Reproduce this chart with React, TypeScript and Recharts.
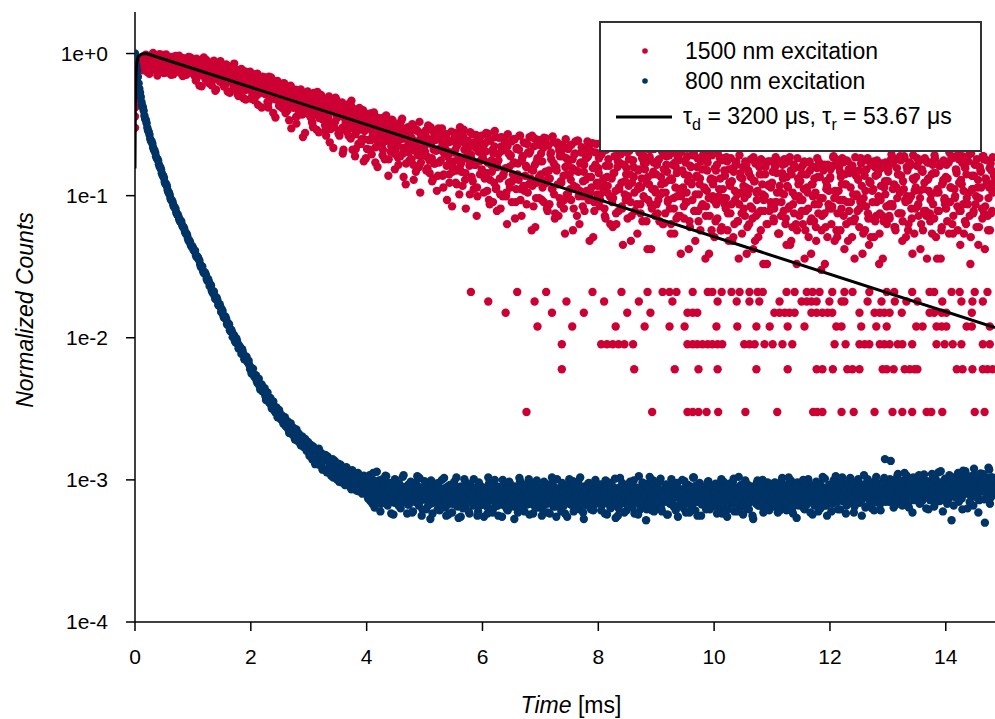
import React from "react";
import { ScatterChart, Scatter, XAxis, YAxis, Legend } from "recharts";

const FONT = "'Liberation Sans', Arial, sans-serif";
const RED = "#CC0033";
const BLUE = "#003366";

// each trace was read out in interleaved sweeps of 0.025 ms bins;
// a sweep starts at its own offset (ms) and holds one count per bin
const BIN_MS = 0.025;
const SWEEP_A_START = 0;
const SWEEP_B_START = 0.0125;
const SWEEP_C_START = 0.00625;
const BLUE_SWEEP_C_START = 4.00625;
// raw counts that correspond to a normalized value of 1
const RED_FULL_SCALE = 333;
const BLUE_FULL_SCALE = 100000;

// 1500 nm excitation, sweep A (one row = 1 ms)
const redSweepA = [
  120, 195, 255, 285, 300, 276, 318, 262, 305, 288, 240, 322, 296, 270, 310, 251, 289, 330, 265, 298, 243, 281, 312, 258, 292, 236, 304, 274, 320, 249, 286, 262, 301, 231, 278, 295, 254, 315, 268, 244,
  248, 292, 215, 301, 232, 270, 196, 283, 241, 262, 220, 287, 238, 199, 274, 251, 186, 266, 229, 294, 207, 258, 233, 279, 180, 247, 221, 268, 194, 240, 226, 172, 255, 203, 238, 161, 249, 214, 186, 231,
  205, 168, 238, 190, 222, 145, 213, 181, 229, 196, 174, 215, 139, 201, 226, 162, 189, 118, 208, 183, 196, 151, 178, 206, 127, 169, 190, 144, 99, 175, 158, 185, 121, 166, 140, 178, 86, 152, 131, 170,
  148, 120, 172, 101, 157, 136, 179, 93, 142, 163, 128, 154, 88, 139, 166, 110, 146, 72, 131, 158, 119, 143, 96, 151, 70, 125, 137, 104, 148, 84, 112, 131, 63, 120, 96, 138, 77, 107, 58, 124,
  98, 121, 70, 110, 86, 128, 57, 102, 79, 115, 93, 64, 118, 81, 105, 46, 97, 74, 112, 88, 70, 103, 55, 91, 112, 66, 84, 40, 99, 77, 88, 60, 104, 72, 49, 95, 81, 35, 67, 92,
  74, 96, 52, 83, 101, 61, 44, 88, 69, 93, 57, 85, 99, 38, 72, 90, 63, 47, 80, 28, 67, 92, 50, 78, 34, 86, 59, 97, 43, 71, 81, 54, 65, 90, 37, 73, 24, 84, 58, 68,
  62, 35, 78, 48, 91, 29, 55, 70, 41, 86, 26, 59, 44, 74, 33, 83, 52, 21, 66, 38, 80, 47, 57, 30, 72, 43, 88, 24, 63, 36, 54, 77, 40, 68, 19, 50, 84, 32, 61, 45,
  58, 31, 72, 42, 84, 26, 50, 65, 37, 79, 23, 53, 40, 69, 29, 76, 46, 18, 61, 34, 74, 43, 52, 27, 66, 38, 81, 21, 57, 33, 49, 71, 36, 63, 16, 45, 78, 30, 55, 41,
  52, 28, 66, 38, 77, 23, 45, 60, 33, 72, 20, 48, 36, 63, 26, 69, 41, 15, 55, 31, 67, 39, 47, 24, 59, 35, 74, 18, 51, 29, 44, 64, 32, 57, 14, 40, 70, 27, 49, 37,
  47, 25, 60, 34, 68, 21, 41, 55, 30, 64, 18, 43, 32, 57, 23, 62, 37, 13, 50, 28, 59, 35, 42, 22, 53, 31, 66, 16, 46, 26, 40, 58, 29, 51, 12, 36, 63, 24, 44, 33,
  43, 22, 55, 31, 61, 19, 37, 50, 27, 58, 16, 39, 29, 52, 21, 56, 34, 12, 45, 25, 53, 32, 38, 20, 48, 28, 60, 14, 42, 24, 36, 54, 26, 47, 11, 33, 57, 21, 40, 30,
  41, 23, 53, 30, 59, 18, 35, 48, 26, 56, 15, 38, 28, 50, 20, 55, 33, 11, 44, 24, 52, 31, 37, 19, 47, 27, 58, 13, 40, 22, 35, 52, 25, 45, 10, 32, 55, 20, 39, 29,
  44, 21, 54, 32, 60, 17, 36, 49, 27, 57, 14, 40, 30, 51, 22, 54, 34, 12, 46, 26, 50, 30, 39, 18, 46, 28, 61, 15, 41, 23, 37, 53, 24, 47, 11, 31, 56, 22, 42, 28,
  42, 24, 56, 29, 58, 20, 38, 47, 25, 59, 16, 37, 31, 53, 19, 57, 33, 13, 43, 27, 54, 29, 36, 21, 49, 26, 59, 12, 44, 25, 34, 55, 23, 48, 12, 35, 54, 19, 41, 31,
  45, 22, 57, 30, 62, 18, 37, 51, 28, 60, 15, 40, 29, 53, 21, 58, 35, 11, 46, 25, 55, 33, 38, 20, 50, 27, 63, 14, 43, 24, 38, 56, 26, 41,
];

// 1500 nm excitation, sweep B (one row = 1 ms)
const redSweepB = [
  160, 230, 270, 295, 312, 268, 291, 327, 247, 303, 281, 259, 336, 274, 297, 233, 318, 286, 252, 309, 271, 328, 245, 293, 264, 315, 238, 299, 279, 256, 321, 243, 288, 309, 262, 236, 296, 273, 311, 250,
  271, 229, 306, 254, 198, 287, 243, 312, 221, 265, 289, 205, 258, 231, 296, 182, 249, 277, 212, 240, 263, 195, 226, 272, 241, 176, 254, 213, 283, 188, 237, 167, 215, 259, 196, 243, 158, 222, 206, 248,
  182, 231, 156, 211, 240, 175, 198, 139, 224, 187, 206, 152, 229, 170, 193, 127, 211, 164, 186, 143, 162, 204, 136, 188, 149, 172, 113, 198, 158, 138, 181, 107, 164, 143, 186, 124, 157, 92, 174, 134,
  165, 131, 108, 176, 146, 97, 154, 123, 170, 115, 143, 96, 160, 121, 79, 152, 134, 101, 163, 117, 91, 138, 127, 66, 144, 109, 132, 88, 118, 155, 99, 135, 71, 126, 104, 116, 83, 133, 95, 61,
  113, 82, 126, 65, 104, 91, 119, 53, 97, 86, 75, 109, 60, 122, 88, 99, 68, 114, 81, 51, 94, 62, 107, 83, 116, 45, 92, 73, 101, 59, 86, 106, 43, 78, 97, 64, 110, 57, 84, 73,
  89, 63, 104, 48, 77, 95, 56, 82, 36, 99, 70, 91, 46, 66, 87, 31, 79, 58, 94, 53, 84, 41, 75, 62, 101, 49, 88, 70, 27, 81, 60, 93, 45, 76, 55, 89, 33, 68, 79, 51,
  73, 44, 92, 57, 31, 81, 49, 66, 95, 38, 58, 85, 27, 69, 47, 77, 35, 90, 53, 64, 42, 83, 23, 71, 56, 88, 37, 62, 79, 46, 29, 67, 86, 51, 39, 74, 20, 58, 82, 43,
  66, 38, 85, 49, 27, 75, 44, 60, 87, 34, 53, 79, 24, 63, 41, 71, 31, 83, 47, 58, 37, 76, 19, 65, 50, 81, 33, 56, 73, 42, 26, 61, 80, 45, 35, 68, 17, 52, 77, 39,
  61, 34, 79, 44, 24, 70, 39, 54, 80, 30, 48, 73, 21, 58, 37, 65, 27, 76, 42, 52, 33, 69, 16, 59, 45, 74, 29, 50, 67, 38, 22, 56, 73, 41, 31, 62, 14, 47, 71, 35,
  55, 31, 72, 40, 21, 64, 35, 49, 70, 27, 44, 67, 18, 53, 33, 59, 24, 68, 38, 47, 30, 63, 14, 54, 40, 66, 26, 45, 61, 34, 19, 51, 65, 37, 28, 57, 13, 43, 64, 31,
  52, 29, 66, 37, 19, 59, 32, 46, 62, 25, 41, 61, 16, 49, 31, 55, 22, 64, 35, 44, 27, 58, 13, 50, 37, 60, 23, 42, 56, 31, 17, 47, 60, 34, 26, 53, 11, 39, 58, 28,
  49, 27, 62, 35, 18, 57, 30, 44, 60, 23, 39, 58, 15, 47, 29, 52, 21, 61, 33, 42, 26, 55, 12, 47, 35, 57, 22, 40, 53, 29, 16, 45, 57, 32, 24, 50, 11, 37, 55, 27,
  51, 28, 63, 36, 19, 58, 31, 45, 61, 24, 40, 59, 16, 48, 30, 54, 22, 62, 34, 43, 27, 56, 13, 49, 36, 59, 23, 41, 55, 30, 17, 46, 59, 33, 25, 52, 12, 38, 57, 28,
  53, 29, 65, 37, 20, 60, 32, 47, 63, 25, 42, 61, 17, 50, 31, 56, 23, 64, 36, 45, 28, 58, 14, 51, 37, 61, 24, 43, 57, 31, 18, 48, 61, 35, 26, 54, 12, 40, 59, 29,
  55, 30, 67, 38, 21, 62, 33, 48, 65, 26, 43, 63, 18, 52, 32, 58, 24, 66, 37, 46, 29, 60, 15, 53, 38, 63, 25, 44, 59, 32, 19, 50, 62, 36,
];

// 1500 nm excitation, sweep C (one row = 1 ms)
const redSweepC = [
  140, 215, 262, 290, 302, 254, 295, 321, 269, 284, 310, 258, 299, 272, 317, 291, 265, 306, 280, 325, 250, 293, 264, 303, 249, 289, 275, 296, 256, 307, 267, 285, 246, 300, 260, 278, 293, 253, 311, 271,
  285, 233, 274, 248, 293, 266, 240, 281, 255, 300, 210, 254, 235, 276, 219, 261, 246, 269, 227, 280, 222, 240, 200, 257, 216, 235, 250, 208, 266, 227, 214, 189, 239, 203, 228, 182, 221, 246, 196, 210,
  160, 202, 184, 223, 169, 209, 195, 216, 176, 227, 172, 189, 151, 203, 165, 182, 196, 158, 214, 175, 163, 139, 188, 153, 177, 132, 170, 195, 146, 160, 166, 119, 156, 132, 173, 149, 126, 163, 139, 180,
  130, 146, 110, 159, 123, 139, 152, 117, 169, 133, 125, 104, 146, 116, 137, 98, 131, 152, 110, 122, 130, 88, 121, 100, 136, 115, 94, 127, 106, 142, 70, 105, 90, 123, 77, 111, 99, 117, 83, 126,
  71, 100, 119, 82, 92, 111, 73, 103, 84, 117, 89, 70, 99, 81, 112, 60, 90, 77, 106, 66, 87, 77, 93, 63, 100, 72, 85, 56, 95, 67, 73, 84, 55, 97, 68, 72, 53, 90, 64, 82,
  68, 50, 80, 59, 100, 42, 70, 56, 90, 46, 71, 59, 78, 47, 89, 54, 68, 41, 81, 49, 58, 70, 40, 90, 52, 56, 39, 79, 48, 68, 72, 34, 61, 42, 79, 55, 38, 68, 47, 88,
  61, 48, 68, 36, 83, 43, 59, 30, 74, 37, 53, 66, 34, 86, 46, 50, 33, 74, 41, 63, 30, 56, 83, 37, 47, 70, 31, 59, 39, 78, 53, 35, 66, 44, 88, 28, 55, 41, 76, 32,
  47, 58, 30, 78, 41, 44, 29, 67, 37, 56, 25, 50, 75, 32, 42, 63, 27, 53, 34, 71, 47, 31, 60, 39, 80, 24, 49, 36, 67, 28, 55, 43, 62, 31, 76, 38, 52, 26, 67, 34,
  48, 31, 65, 42, 27, 54, 35, 74, 21, 44, 32, 63, 25, 53, 38, 56, 28, 69, 34, 47, 23, 60, 30, 41, 53, 26, 72, 37, 39, 25, 61, 33, 51, 22, 45, 70, 29, 37, 57, 24,
  29, 59, 22, 45, 35, 51, 25, 63, 31, 43, 21, 55, 27, 38, 48, 24, 66, 33, 36, 23, 57, 30, 46, 20, 41, 64, 26, 34, 53, 22, 44, 28, 60, 38, 24, 50, 32, 68, 19, 40,
  17, 50, 23, 33, 44, 20, 61, 29, 32, 19, 51, 25, 42, 17, 36, 58, 22, 29, 48, 18, 39, 24, 55, 34, 21, 45, 27, 62, 16, 35, 25, 53, 19, 40, 31, 47, 21, 58, 26, 38,
  58, 22, 30, 48, 18, 39, 24, 55, 34, 21, 45, 27, 62, 16, 35, 25, 53, 19, 40, 31, 47, 21, 58, 26, 38, 17, 50, 23, 33, 44, 20, 61, 29, 32, 19, 51, 25, 42, 17, 36,
  45, 27, 62, 16, 35, 25, 53, 19, 40, 31, 47, 21, 58, 26, 38, 17, 50, 23, 33, 44, 20, 61, 29, 32, 19, 51, 25, 42, 17, 36, 58, 22, 30, 48, 18, 39, 24, 55, 34, 21,
  49, 23, 60, 28, 40, 19, 52, 25, 35, 46, 22, 63, 30, 33, 21, 54, 27, 44, 18, 38, 61, 24, 32, 50, 19, 41, 26, 57, 36, 22, 47, 29, 64, 17, 37, 26, 56, 20, 43, 32,
  27, 44, 18, 38, 61, 24, 32, 50, 19, 41, 26, 57, 36, 22, 47, 29, 65, 17, 37, 26, 56, 20, 43, 32, 49, 23, 60, 28, 40, 19, 52, 25, 35, 46,
];

// isolated low-count points of the 1500 nm trace: [counts, times in ms]
const redLowRows: [number, number[]][] = [
  [1, [6.76, 8.93, 9.54, 9.63, 9.73, 9.87, 10.07, 10.54, 11.09, 11.71, 11.78, 11.87, 12.2, 12.41, 12.77, 13.08, 13.25, 13.42, 13.67, 13.75, 13.94, 14.5, 14.67]],
  [2, [7.37, 8.62, 9.32, 9.73, 10.06, 10.73, 11.27, 11.77, 11.87, 12.05, 12.3, 12.39, 12.51, 12.91, 12.98, 13.1, 13.29, 13.38, 13.46, 13.51, 14.19, 14.29, 14.46, 14.64, 14.72, 14.81]],
  [3, [7.37, 8.05, 8.15, 8.25, 8.35, 8.45, 8.6, 9.54, 9.63, 9.71, 9.8, 9.89, 9.97, 10.06, 10.14, 10.52, 10.61, 10.7, 10.87, 11.01, 11.18, 11.35, 12.08, 12.27, 12.51, 12.6, 12.68, 12.86, 12.94, 13.03, 13.17, 13.25, 13.42, 13.84, 13.98, 14.12, 14.27, 14.64, 14.76]],
  [4, [6.95, 7.55, 8.3, 8.8, 9.23, 9.49, 10.04, 10.4, 10.73, 10.96, 11.27, 11.56, 12.11, 12.2, 12.54, 12.8, 12.98, 13.49, 13.6, 13.84, 13.93, 14.01, 14.36, 14.45, 14.76]],
  [5, [6.4, 7.2, 7.75, 8.5, 8.9, 9.54, 9.63, 9.71, 11.04, 11.13, 11.22, 11.3, 11.39, 11.68, 11.77, 11.87, 11.96, 12.04, 12.51, 12.77, 12.86, 12.94, 13.03, 13.24, 13.72, 13.8, 13.93, 14.01, 14.45]],
  [6, [6.1, 6.9, 7.45, 8.1, 8.7, 9.28, 10.06, 10.39, 10.61, 10.78, 11.13, 11.51, 11.6, 11.68, 11.77, 11.99, 12.2, 12.25, 12.65, 12.89, 13.12, 13.32, 13.51, 13.94, 14.27, 14.46, 14.64]],
  [7, [5.8, 6.6, 7.1, 7.9, 8.4, 8.85, 9.11, 9.23, 9.35, 9.63, 9.89, 9.97, 10.13, 10.3, 10.44, 10.61, 10.75, 10.84, 11.25, 11.39, 11.6, 11.7, 11.82, 12.04, 12.25, 12.39, 12.68, 12.98, 13.11, 13.42, 13.72, 13.8, 14.1, 14.24, 14.5, 14.72]],
];

// rising edge of the 1500 nm trace: [ms, normalized]
const redRise: [number, number][] = [
  [0.0, 0.3], [0.003, 0.42], [0.006, 0.57], [0.012, 0.67], [0.03, 0.75],
];

// 800 nm excitation, sweep A (one row = 1 ms)
const blueSweepA = [
  100000, 81500, 68500, 56500, 49500, 43000, 39500, 34600, 32300, 28700, 26800, 24200, 23200, 21000, 20000, 18300, 17600, 16000, 15300, 13900, 13300, 12100, 11650, 10550, 10100, 9300, 9000, 8300, 8050, 7400, 7150, 6600, 6550, 6050, 5850, 5420, 5260, 4820, 4700, 4380,
  4300, 4120, 3820, 3730, 3550, 3280, 3200, 2950, 2890, 2760, 2520, 2490, 2370, 2150, 2130, 1960, 1930, 1820, 1680, 1650, 1580, 1430, 1420, 1350, 1230, 1240, 1110, 1100, 1050, 950, 990, 905, 880, 830, 830, 760, 730, 735, 670, 640,
  615, 570, 548, 540, 498, 500, 458, 462, 420, 435, 390, 400, 362, 378, 335, 352, 316, 298, 318, 280, 295, 268, 258, 272, 240, 255, 225, 241, 212, 232, 200, 222, 190, 212, 182, 198, 177, 191, 168, 180,
  180, 150, 161, 172, 138, 158, 131, 166, 142, 124, 150, 118, 137, 146, 112, 133, 121, 104, 136, 111, 124, 97, 128, 106, 116, 92, 123, 101, 110, 88, 117, 95, 106, 84, 112, 91, 100, 80, 107, 87,
  96, 74, 108, 84, 68, 99, 87, 114, 77, 90, 68, 101, 77, 107, 68, 92, 80, 58, 96, 74, 100, 81, 66, 91, 69, 105, 75, 83, 58, 93, 70, 85, 60, 95, 74, 106, 66, 80, 56, 88,
  98, 62, 84, 74, 53, 89, 69, 94, 76, 62, 86, 66, 100, 72, 80, 56, 90, 68, 83, 59, 93, 73, 104, 65, 78, 55, 87, 82, 64, 95, 73, 58, 87, 76, 101, 67, 80, 60, 91, 70,
  87, 55, 78, 65, 104, 73, 93, 59, 83, 68, 90, 56, 80, 72, 100, 66, 86, 62, 76, 94, 69, 89, 53, 74, 84, 62, 98, 70, 91, 60, 80, 67, 101, 76, 87, 58, 73, 95, 64, 82,
  80, 56, 90, 68, 83, 59, 93, 73, 104, 65, 78, 55, 87, 82, 64, 95, 73, 58, 87, 76, 101, 67, 80, 60, 91, 70, 98, 62, 84, 74, 53, 89, 69, 94, 76, 62, 86, 66, 100, 72,
  75, 92, 61, 85, 70, 99, 57, 81, 66, 95, 72, 88, 54, 79, 63, 103, 69, 84, 59, 91, 77, 65, 97, 71, 86, 58, 82, 74, 106, 62, 89, 68, 78, 52, 94, 73, 83, 61, 99, 67,
  88, 64, 79, 102, 60, 85, 72, 93, 57, 81, 69, 97, 65, 76, 90, 55, 84, 71, 100, 63, 80, 74, 92, 59, 87, 67, 104, 61, 78, 70, 95, 56, 83, 73, 89, 66, 98, 62, 77, 86,
  71, 94, 58, 83, 67, 101, 63, 79, 88, 55, 76, 91, 69, 97, 60, 82, 73, 105, 64, 86, 57, 80, 70, 93, 62, 89, 75, 53, 84, 68, 99, 66, 78, 90, 59, 85, 72, 96, 61, 81,
  83, 65, 96, 74, 59, 89, 77, 103, 68, 81, 61, 93, 71, 99, 63, 85, 75, 54, 90, 70, 95, 77, 63, 87, 67, 101, 73, 81, 57, 91, 69, 84, 60, 94, 74, 105, 66, 79, 56, 88,
  90, 60, 82, 70, 106, 76, 95, 62, 86, 71, 93, 58, 83, 75, 103, 69, 89, 65, 79, 97, 72, 92, 56, 77, 87, 65, 101, 73, 94, 63, 84, 70, 105, 79, 90, 61, 76, 98, 140, 85,
  92, 70, 136, 79, 64, 96, 83, 110, 73, 87, 66, 99, 77, 107, 68, 91, 81, 59, 97, 75, 103, 83, 68, 94, 72, 109, 79, 88, 62, 98, 75, 91, 65, 101, 80, 113, 71, 86, 60, 95,
  96, 68, 91, 79, 52, 100, 76, 105, 84, 70, 97, 74, 116, 81, 89, 63, 102, 78, 93, 66, 108, 86, 98, 72, 111, 83, 92, 50, 104, 80, 118, 75, 95, 88,
];

// 800 nm excitation, sweep B (one row = 1 ms)
const blueSweepB = [
  89000, 76000, 61500, 53000, 45500, 41500, 36500, 34000, 30000, 28100, 25100, 24100, 21800, 20800, 18900, 18100, 16600, 15800, 14400, 13800, 12500, 12050, 10950, 10500, 9550, 9250, 8550, 8250, 7600, 7380, 6820, 6680, 6230, 6020, 5580, 5410, 4990, 4840, 4500, 4400,
  4120, 4090, 3700, 3680, 3490, 3150, 3160, 2860, 2850, 2590, 2590, 2310, 2330, 2080, 2110, 1870, 1900, 1700, 1720, 1520, 1545, 1380, 1400, 1250, 1260, 1130, 1140, 1010, 1040, 925, 945, 840, 860, 770, 790, 705, 725, 680, 690, 600,
  560, 605, 530, 545, 480, 515, 432, 470, 418, 442, 365, 412, 352, 376, 318, 356, 305, 325, 276, 310, 268, 284, 248, 276, 236, 258, 214, 250, 210, 232, 192, 226, 188, 205, 175, 202, 170, 194, 160, 185,
  148, 176, 139, 168, 129, 160, 145, 127, 155, 118, 142, 150, 113, 139, 128, 107, 140, 114, 124, 101, 130, 109, 96, 122, 115, 92, 119, 99, 111, 86, 114, 97, 90, 109, 83, 104, 94, 81, 102, 89,
  82, 103, 71, 94, 112, 64, 88, 79, 99, 60, 91, 84, 73, 106, 66, 95, 77, 89, 57, 101, 70, 86, 94, 63, 80, 108, 74, 90, 67, 83, 97, 59, 87, 76, 92, 69, 103, 81, 62, 85,
  73, 91, 66, 84, 99, 58, 79, 88, 70, 95, 61, 82, 75, 103, 64, 86, 57, 92, 77, 68, 97, 72, 84, 54, 89, 79, 63, 101, 71, 85, 60, 93, 76, 66, 88, 82, 56, 96, 74, 80,
  69, 87, 79, 58, 94, 72, 83, 63, 100, 76, 66, 89, 81, 55, 92, 70, 85, 61, 97, 74, 78, 65, 90, 84, 59, 103, 71, 80, 67, 93, 75, 86, 57, 95, 68, 82, 64, 99, 77, 72,
  84, 62, 97, 75, 68, 89, 58, 81, 93, 71, 65, 101, 78, 86, 60, 94, 73, 83, 55, 91, 76, 67, 98, 70, 87, 63, 80, 104, 72, 59, 90, 79, 66, 95, 74, 85, 61, 92, 69, 82,
  77, 93, 66, 85, 58, 98, 74, 81, 63, 90, 71, 102, 79, 56, 88, 68, 95, 75, 84, 61, 92, 70, 80, 64, 99, 73, 87, 57, 83, 76, 96, 67, 89, 62, 78, 105, 72, 86, 60, 91,
  70, 86, 97, 63, 82, 75, 92, 57, 80, 68, 101, 74, 88, 61, 95, 79, 66, 85, 72, 98, 59, 83, 77, 90, 64, 104, 71, 84, 56, 93, 76, 67, 89, 81, 62, 96, 73, 87, 65, 80,
  79, 65, 91, 73, 86, 58, 97, 70, 83, 62, 94, 77, 68, 102, 74, 88, 60, 81, 92, 67, 76, 99, 63, 85, 72, 90, 56, 82, 78, 95, 66, 87, 71, 100, 61, 84, 75, 93, 69, 80,
  74, 95, 67, 86, 80, 61, 98, 72, 89, 64, 83, 104, 70, 91, 58, 85, 77, 96, 66, 82, 73, 100, 62, 88, 76, 93, 59, 84, 79, 68, 97, 71, 90, 63, 87, 75, 102, 66, 81, 92,
  85, 68, 99, 77, 91, 62, 88, 80, 104, 71, 94, 66, 83, 97, 74, 87, 59, 92, 79, 101, 69, 86, 76, 108, 64, 90, 82, 96, 72, 85, 61, 99, 78, 93, 67, 89, 84, 103, 70, 94,
  80, 101, 74, 93, 86, 67, 106, 78, 97, 71, 90, 112, 76, 99, 64, 94, 83, 104, 72, 89, 81, 108, 69, 96, 85, 100, 63, 92, 87, 75, 110, 79, 98, 70, 95, 84, 115, 73, 91, 102,
  90, 72, 108, 84, 99, 66, 95, 86, 112, 78, 103, 62, 92, 115, 80, 97, 70, 106, 88, 120, 76, 101, 59, 94, 85, 110, 73, 98, 82, 122, 68, 104, 91, 79,
];

// 800 nm excitation, sweep C, recorded from 4 ms on (one row = 1 ms)
const blueSweepC = [
  85, 75, 94, 79, 89, 71, 96, 81, 90, 75, 84, 71, 92, 78, 87, 73, 94, 75, 81, 69, 89, 79, 71, 91, 76, 84, 73, 88, 78, 67, 85, 76, 92, 70, 81, 75, 89, 71, 83, 77,
  76, 85, 71, 80, 68, 88, 75, 84, 70, 91, 73, 79, 67, 87, 77, 69, 89, 74, 82, 72, 86, 76, 66, 83, 75, 90, 69, 80, 73, 87, 70, 81, 76, 78, 69, 87, 73, 83, 66, 90,
  67, 87, 77, 69, 89, 74, 82, 72, 86, 76, 66, 83, 75, 90, 69, 80, 73, 87, 70, 81, 76, 78, 69, 87, 73, 83, 66, 90, 76, 85, 71, 80, 68, 88, 75, 84, 70, 91, 73, 79,
  66, 83, 75, 90, 69, 80, 73, 87, 70, 81, 76, 78, 69, 87, 73, 83, 66, 90, 76, 85, 71, 80, 68, 88, 75, 84, 70, 91, 73, 79, 67, 87, 77, 69, 89, 74, 82, 72, 86, 76,
  76, 81, 70, 87, 73, 80, 69, 90, 75, 83, 66, 76, 86, 72, 82, 74, 89, 69, 77, 87, 67, 79, 73, 91, 70, 84, 75, 88, 68, 80, 71, 85, 76, 90, 66, 83, 73, 87, 69, 78,
  73, 87, 69, 78, 76, 81, 70, 87, 73, 80, 69, 90, 75, 83, 66, 76, 86, 72, 82, 74, 89, 69, 77, 87, 67, 79, 73, 91, 70, 84, 75, 88, 68, 80, 71, 85, 76, 90, 66, 83,
  82, 74, 89, 69, 77, 87, 67, 79, 73, 91, 70, 84, 75, 88, 68, 80, 71, 85, 76, 90, 66, 83, 73, 87, 69, 78, 76, 81, 70, 87, 73, 80, 69, 90, 75, 83, 66, 76, 86, 72,
  80, 70, 88, 74, 84, 67, 91, 77, 86, 72, 81, 69, 89, 76, 85, 71, 92, 74, 80, 68, 88, 78, 70, 90, 75, 83, 73, 87, 77, 66, 84, 76, 92, 70, 81, 74, 88, 71, 82, 77,
  84, 72, 93, 77, 87, 70, 94, 80, 89, 75, 84, 71, 93, 79, 88, 74, 96, 76, 83, 71, 91, 81, 73, 93, 78, 86, 75, 90, 80, 69, 88, 79, 95, 72, 84, 77, 92, 74, 85, 80,
  86, 76, 97, 81, 91, 73, 99, 83, 94, 78, 89, 75, 97, 83, 93, 77, 101, 80, 87, 74, 95, 85, 77, 98, 82, 90, 79, 95, 84, 72, 92, 83, 100, 76, 88, 81, 96, 77, 89, 83,
  90, 79, 101, 85, 95, 77, 104, 87, 98, 82, 93, 78, 102, 86, 97, 81, 105, 84, 91, 77, 100, 89, 80, 103, 86, 95, 83, 99, 88, 76, 96, 86, 104, 79,
];

// fitted curve (tau_d = 3200 us, tau_r = 53.67 us): [ms, normalized]
const fitCurve: [number, number][] = [
  [0, 0.155], [0.006, 0.45], [0.012, 0.63], [0.02, 0.76], [0.035, 0.89], [0.06, 0.955], [0.12, 0.993], [0.2, 1.0], [0.25, 0.985], [14.85, 0.0118],
];

const xTicks = [0, 2, 4, 6, 8, 10, 12, 14];
const yTicks = [1e-4, 1e-3, 1e-2, 1e-1, 1];
const yTickLabels = ["1e-4", "1e-3", "1e-2", "1e-1", "1e+0"];

const sweep = (counts: number[], start: number, scale: number) =>
  counts.map((c, i) => ({ t: start + i * BIN_MS, v: c / scale }));

const redData = [
  ...sweep(redSweepA, SWEEP_A_START, RED_FULL_SCALE),
  ...sweep(redSweepB, SWEEP_B_START, RED_FULL_SCALE),
  ...sweep(redSweepC, SWEEP_C_START, RED_FULL_SCALE),
  ...redRise.map(([t, v]) => ({ t, v })),
  ...redLowRows.flatMap(([c, times]) => times.map((t) => ({ t, v: c / RED_FULL_SCALE }))),
];
const blueData = [
  ...sweep(blueSweepA, SWEEP_A_START, BLUE_FULL_SCALE),
  ...sweep(blueSweepB, SWEEP_B_START, BLUE_FULL_SCALE),
  ...sweep(blueSweepC, BLUE_SWEEP_C_START, BLUE_FULL_SCALE),
];
const fitData = fitCurve.map(([t, v]) => ({ t, v }));

const dot = (color: string) => (props: any) =>
  <circle cx={props.cx} cy={props.cy} r={4.2} fill={color} />;

const noShape = () => <g />;

const LegendBox = () => (
  <svg width={383} height={131} style={{ display: "block" }}>
    <rect x={1} y={1} width={381} height={129} fill="#fff" stroke="#333" strokeWidth={2} />
    <circle cx={46} cy={30} r={2.8} fill={RED} />
    <circle cx={46} cy={60} r={2.8} fill={BLUE} />
    <line x1={17} y1={96} x2={73} y2={96} stroke="#000" strokeWidth={3} />
    <g fontFamily={FONT} fontSize={23} fill="#000">
      <text x={86} y={38}>1500 nm excitation</text>
      <text x={86} y={68}>800 nm excitation</text>
      <text x={84} y={103}>
        τ<tspan fontSize={16} dy={6}>d</tspan>
        <tspan dy={-6}> = 3200 μs, τ</tspan>
        <tspan fontSize={16} dy={6}>r</tspan>
        <tspan dy={-6}> = 53.67 μs</tspan>
      </text>
    </g>
  </svg>
);

const XTitle = (props: any) => {
  const { x, y, width } = props.viewBox;
  return (
    <text x={x + width / 2 + 6} y={y + 91} textAnchor="middle" fontFamily={FONT} fontSize={23} fill="#000">
      <tspan fontStyle="italic">Time</tspan>
      <tspan> [ms]</tspan>
    </text>
  );
};

const YTitle = (props: any) => {
  const { y, height } = props.viewBox;
  const cy = y + height / 2 - 7;
  return (
    <text x={33} y={cy} transform={`rotate(-90, 33, ${cy})`} textAnchor="middle" fontFamily={FONT} fontSize={23} fontStyle="italic" fill="#000">
      Normalized Counts
    </text>
  );
};

const axisStroke = { stroke: "#000", strokeWidth: 1.5 };
const tickStyle = { fill: "#000", fontSize: 21, fontFamily: FONT };

export default function App() {
  return (
    <div style={{ position: "absolute", left: 0, top: 0, background: "#fff" }}>
      <ScatterChart width={995} height={719} margin={{ top: 12, right: 0, bottom: 0, left: 0 }}>
        <XAxis
          type="number"
          dataKey="t"
          domain={[0, 14.85]}
          allowDataOverflow
          ticks={xTicks}
          interval={0}
          height={97}
          tickSize={9}
          tickMargin={18}
          tick={tickStyle}
          axisLine={axisStroke}
          tickLine={axisStroke}
          label={{ content: XTitle }}
        />
        <XAxis
          xAxisId="top"
          orientation="top"
          type="number"
          dataKey="t"
          domain={[0, 14.85]}
          allowDataOverflow
          height={0}
          tick={false}
          tickLine={false}
          axisLine={axisStroke}
        />
        <YAxis
          type="number"
          dataKey="v"
          scale="log"
          domain={[1e-4, 1.96]}
          allowDataOverflow
          ticks={yTicks}
          interval={0}
          width={135}
          tickSize={9}
          tickMargin={18}
          tick={tickStyle}
          axisLine={axisStroke}
          tickLine={axisStroke}
          tickFormatter={(v: number) => yTickLabels[yTicks.findIndex((k) => Math.abs(k - v) < k * 1e-6)] ?? String(v)}
          label={{ content: YTitle }}
        />
        <Legend
          layout="vertical"
          align="center"
          verticalAlign="middle"
          content={() => <LegendBox />}
          wrapperStyle={{ left: 599, top: 21, width: 383, height: 131 }}
        />
        <Scatter name="1500 nm excitation" data={redData} fill={RED} shape={dot(RED)} isAnimationActive={false} />
        <Scatter name="800 nm excitation" data={blueData} fill={BLUE} shape={dot(BLUE)} isAnimationActive={false} />
        <Scatter
          name="fit"
          data={fitData}
          fill="#000"
          shape={noShape}
          line={{ stroke: "#000", strokeWidth: 3 }}
          isAnimationActive={false}
        />
      </ScatterChart>
    </div>
  );
}
